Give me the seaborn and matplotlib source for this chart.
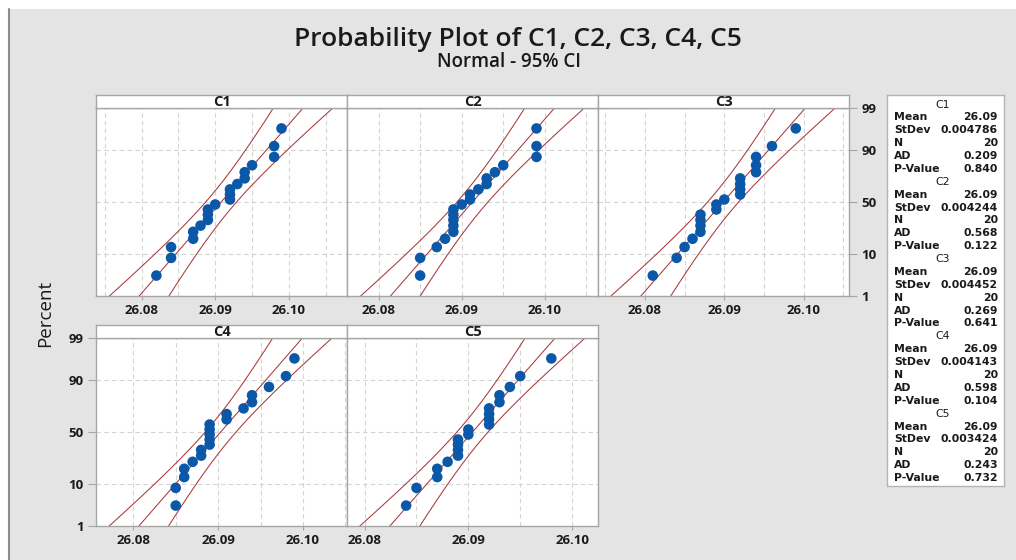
import numpy as np
import pandas as pd
import seaborn as sns
import matplotlib.pyplot as plt
from matplotlib.ticker import FixedLocator, MultipleLocator
from matplotlib.patches import Rectangle
from matplotlib.lines import Line2D
from statistics import NormalDist

###
### DATA
###

columns = ['C1', 'C2', 'C3', 'C4', 'C5']

c1 = [26.082, 26.084, 26.084, 26.087, 26.087, 26.088, 26.089, 26.089, 26.089, 26.090,
      26.092, 26.092, 26.092, 26.093, 26.094, 26.094, 26.095, 26.098, 26.098, 26.099]
c2 = [26.085, 26.085, 26.087, 26.088, 26.089, 26.089, 26.089, 26.089, 26.089, 26.090,
      26.091, 26.091, 26.092, 26.093, 26.093, 26.094, 26.095, 26.099, 26.099, 26.099]
c3 = [26.081, 26.084, 26.085, 26.086, 26.087, 26.087, 26.087, 26.087, 26.089, 26.089,
      26.090, 26.092, 26.092, 26.092, 26.092, 26.094, 26.094, 26.094, 26.096, 26.099]
c4 = [26.085, 26.085, 26.086, 26.086, 26.087, 26.088, 26.088, 26.089, 26.089, 26.089,
      26.089, 26.089, 26.091, 26.091, 26.093, 26.094, 26.094, 26.096, 26.098, 26.099]
c5 = [26.084, 26.085, 26.087, 26.087, 26.088, 26.089, 26.089, 26.089, 26.089, 26.090,
      26.090, 26.092, 26.092, 26.092, 26.092, 26.093, 26.093, 26.094, 26.095, 26.098]
samples = [c1, c2, c3, c4, c5]

# summary table printed by the original chart
mean_text = ['26.09', '26.09', '26.09', '26.09', '26.09']
stdev_text = ['0.004786', '0.004244', '0.004452', '0.004143', '0.003424']
n_text = ['20', '20', '20', '20', '20']
ad_text = ['0.209', '0.568', '0.269', '0.598', '0.243']
pvalue_text = ['0.840', '0.122', '0.641', '0.104', '0.732']

percent_ticks = [1, 10, 50, 90, 99]
x_ticks = [26.08, 26.09, 26.10]

###
### LAYOUT HELPERS
###

W, H = 1016, 560
nd = NormalDist()


def zscore(p):
    if np.ndim(p) == 0:
        return nd.inv_cdf(p / 100.0)
    return np.array([nd.inv_cdf(v / 100.0) for v in p])


def px_axes(fig, left, top, right, bottom):
    return fig.add_axes([left / W, 1 - bottom / H, (right - left) / W, (bottom - top) / H])


sns.set_theme(style='white')
plt.rcParams['font.family'] = ['Open Sans', 'DejaVu Sans']

bg = '#e4e4e4'
edge = '#a6a6a6'
grid_c = '#d4d4d4'
dot_c = '#0b58a8'
line_c = '#a8393b'
text_c = '#1a1a1a'

fig = plt.figure(figsize=(W / 100, H / 100), dpi=100, facecolor=bg)

# white margin and dark rule at the top-left, like the original window
fig.patches.append(Rectangle((0, 1 - 9 / H), 1, 9 / H, transform=fig.transFigure,
                             facecolor='white', edgecolor='none', zorder=0))
fig.patches.append(Rectangle((0, 0), 8 / W, 1, transform=fig.transFigure,
                             facecolor='white', edgecolor='none', zorder=0))
fig.lines.append(Line2D([8.5 / W, 8.5 / W], [0, 1 - 9 / H], transform=fig.transFigure,
                        color='#8c8c8c', lw=1.5))

fig.text(518 / W, 1 - 40 / H, 'Probability Plot of C1, C2, C3, C4, C5',
         ha='center', va='center', fontsize=19, fontweight='semibold', color=text_c)
fig.text(509 / W, 1 - 62 / H, 'Normal - 95% CI',
         ha='center', va='center', fontsize=13.5, fontweight='semibold', color=text_c)
fig.text(45 / W, 1 - 313 / H, 'Percent', rotation=90,
         ha='center', va='center', fontsize=13.5, color=text_c)

###
### PANELS
###

boxes = [(96, 108, 347, 296), (347, 108, 598, 296), (598, 108, 849, 296),
         (96, 338, 347, 526), (347, 338, 598, 526)]
x_limits = [(26.0738, 26.1079), (26.0762, 26.1064), (26.0741, 26.1057),
            (26.0756, 26.1052), (26.0783, 26.1025)]
y_side = [None, None, 'right', 'left', None]

z_lo, z_hi = zscore(1), zscore(99)
z_line = np.linspace(-3.2, 3.2, 200)

for i, (name, values) in enumerate(zip(columns, samples)):
    left, top, right, bottom = boxes[i]
    ax = px_axes(fig, left, top, right, bottom)
    ax.set_facecolor('white')

    # median-rank plotting positions
    df = pd.DataFrame({'x': np.sort(values)})
    n = len(df)
    df['pct'] = (np.arange(1, n + 1) - 0.3) / (n + 0.4) * 100
    df['z'] = zscore(df['pct'].tolist())

    # fitted line and 95% confidence band for the percentiles
    m = np.mean(values)
    s = np.std(values, ddof=1)
    se = s * np.sqrt((1 + z_line ** 2 / 2) / n)
    fit = m + z_line * s
    for xs in (fit, fit - 1.96 * se, fit + 1.96 * se):
        sns.lineplot(x=xs, y=z_line, ax=ax, color=line_c, lw=0.75, sort=False, estimator=None)

    sns.scatterplot(data=df, x='x', y='z', ax=ax, color=dot_c, s=58,
                    edgecolor='none', marker='o', zorder=5)

    ax.set_xlim(*x_limits[i])
    ax.set_ylim(z_lo, z_hi)
    ax.set_xlabel('')
    ax.set_ylabel('')

    ax.xaxis.set_major_locator(FixedLocator(x_ticks))
    ax.xaxis.set_minor_locator(MultipleLocator(0.005))
    ax.set_xticklabels(['%.2f' % t for t in x_ticks])
    ax.yaxis.set_major_locator(FixedLocator(zscore(percent_ticks)))
    ax.set_yticklabels([str(p) for p in percent_ticks])

    ax.grid(which='both', axis='x', color=grid_c, ls=(0, (4, 3)), lw=0.8)
    ax.grid(which='major', axis='y', color=grid_c, ls=(0, (4, 3)), lw=0.8)
    ax.tick_params(axis='x', which='major', length=3, width=0.8, color=edge,
                   labelsize=9.5, labelcolor=text_c, pad=3, bottom=True)
    ax.tick_params(axis='x', which='minor', length=0)
    for lab in ax.get_xticklabels():
        lab.set_fontweight('bold')

    if y_side[i] == 'right':
        ax.yaxis.tick_right()
        ax.tick_params(axis='y', right=True, left=False, length=6, width=0.8, color=edge,
                       labelsize=9.5, labelcolor=text_c, pad=3)
    elif y_side[i] == 'left':
        ax.tick_params(axis='y', left=True, right=False, length=6, width=0.8, color=edge,
                       labelsize=9.5, labelcolor=text_c, pad=3)
    else:
        ax.tick_params(axis='y', left=False, right=False, labelleft=False, labelright=False)
    for lab in ax.get_yticklabels():
        lab.set_fontweight('bold')

    for sp in ax.spines.values():
        sp.set_color(edge)
        sp.set_linewidth(1)

    # strip with the column name
    strip = px_axes(fig, left, top - 13, right, top)
    strip.set_facecolor('white')
    strip.set_xticks([])
    strip.set_yticks([])
    for sp in strip.spines.values():
        sp.set_color(edge)
        sp.set_linewidth(1)
    strip.text(0.5, 0.45, name, ha='center', va='center', fontsize=10.5,
               fontweight='bold', color=text_c, transform=strip.transAxes)

###
### SUMMARY TABLE
###

leg = px_axes(fig, 887, 95, 1004, 486)
leg.set_facecolor('white')
leg.set_xlim(887, 1004)
leg.set_ylim(486, 95)
leg.set_xticks([])
leg.set_yticks([])
for sp in leg.spines.values():
    sp.set_color('#b4b4b4')
    sp.set_linewidth(1)

tab_font = ['DejaVu Sans']
row = 0
for k, name in enumerate(columns):
    rows = [('Mean', mean_text[k]), ('StDev', stdev_text[k]), ('N', n_text[k]),
            ('AD', ad_text[k]), ('P-Value', pvalue_text[k])]
    y0 = 104.5 + 12.88 * row
    leg.text(943, y0, name, ha='center', va='center', fontsize=7.8,
             family=tab_font, color=text_c)
    row += 1
    for label, val in rows:
        y0 = 104.5 + 12.88 * row
        leg.text(894, y0, label, ha='left', va='center', fontsize=7.8,
                 fontweight='bold', family=tab_font, color=text_c)
        leg.text(998, y0, val, ha='right', va='center', fontsize=7.8,
                 fontweight='bold', family=tab_font, color=text_c)
        row += 1

fig.savefig('out.png', dpi=100, facecolor=bg)
